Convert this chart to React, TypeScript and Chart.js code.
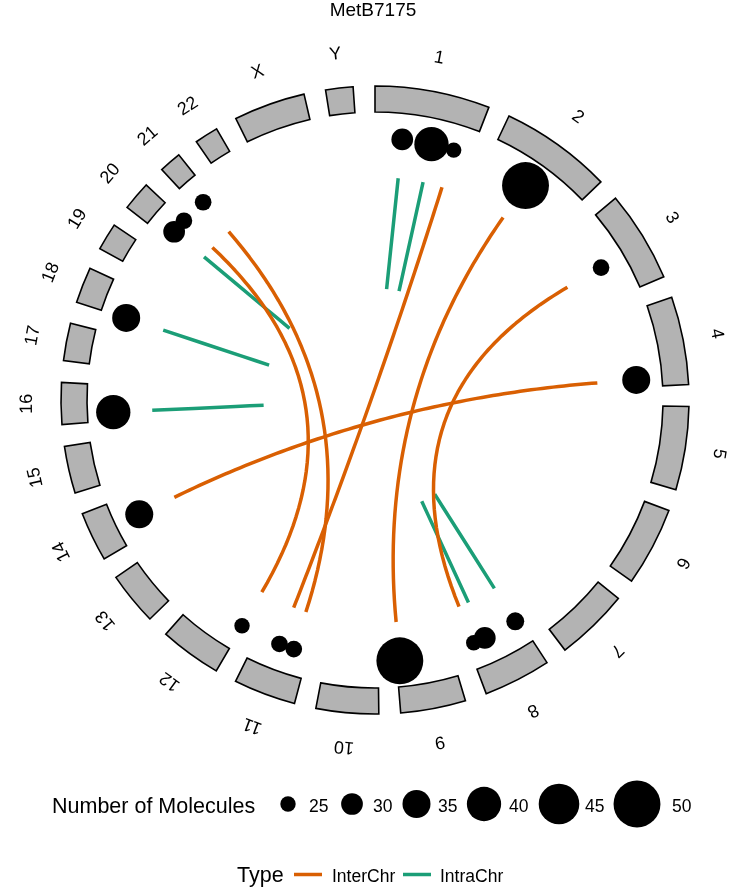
import React, { useEffect, useRef } from 'react';
import { Chart, registerables } from 'chart.js';

Chart.register(...registerables);

// ---------- data ----------
const chartTitle = 'MetB7175';

const chromosomeNames = ['1', '2', '3', '4', '5', '6', '7', '8', '9', '10', '11', '12', '13', '14', '15', '16', '17', '18', '19', '20', '21', '22', 'X', 'Y'];
const chromosomeLengthsMb = [249.25, 243.2, 198.02, 191.15, 180.92, 171.12, 159.14, 146.36, 141.21, 135.53, 135.01, 133.85, 115.17, 107.35, 102.53, 90.35, 81.2, 78.08, 59.13, 63.03, 48.13, 51.3, 155.27, 59.37];

const breakpointChrom = ['1', '1', '1', '2', '3', '4', '8', '8', '8', '9', '11', '11', '12', '14', '16', '18', '20', '20', '21'];
const breakpointPosMb = [70, 146, 205, 115, 113, 172.6, 10, 99, 130, 132.5, 37.5, 76.5, 1.5, 53, 21.5, 1.3, 24.7, 62.5, 21];
const breakpointMolecules = [30, 40, 25, 50, 26, 35, 27, 30, 25, 50, 26, 26, 25, 35, 40, 35, 30, 26, 26];

const linkType = ['InterChr', 'InterChr', 'InterChr', 'InterChr', 'InterChr', 'InterChr', 'IntraChr', 'IntraChr', 'IntraChr', 'IntraChr', 'IntraChr', 'IntraChr', 'IntraChr'];
const linkChromA = ['1', '21', '20', '2', '3', '4', '1', '1', '8', '8', '16', '18', '20'];
const linkPosA = [205, 21, 62.5, 115, 113, 172.6, 70, 146, 10, 99, 21.5, 1.3, 24.7];
const linkChromB = ['11', '11', '12', '9', '8', '14', '1', '1', '8', '8', '16', '18', '20'];
const linkPosB = [76.5, 37.5, 1.5, 132.5, 130, 53, 70, 146, 10, 99, 21.5, 1.3, 24.7];

const sizeLegendTitle = 'Number of Molecules';
const sizeLegendValues = [25, 30, 35, 40, 45, 50];
const typeLegendTitle = 'Type';
const typeLegendValues = ['InterChr', 'IntraChr'];

// ---------- styling / geometry ----------
const typeColors: Record<string, string> = { InterChr: '#D95F02', IntraChr: '#1B9E77' };
const GAP_DEG = 4;
const R_OUT = 314;
const R_IN = 288;
const R_POINT = 262;
const R_LINK = 223;
const R_LABEL = 348;
const FONT = '"Liberation Sans", Arial, Helvetica, sans-serif';

const sizeRadius = (m: number) => 7.7 + (m - 25) * 0.63;

const totalMb = chromosomeLengthsMb.reduce((a, b) => a + b, 0);
const degPerMb = (360 - GAP_DEG * chromosomeNames.length) / totalMb;
const chromStartDeg: number[] = [];
{
  let acc = 0;
  chromosomeLengthsMb.forEach((len, i) => {
    chromStartDeg.push(acc * degPerMb + i * GAP_DEG);
    acc += len;
  });
}
const angleOf = (chr: string, posMb: number) => {
  const i = chromosomeNames.indexOf(chr);
  return chromStartDeg[i] + posMb * degPerMb;
};
const toXY = (deg: number, r: number) => {
  const a = (deg * Math.PI) / 180;
  return { x: r * Math.sin(a), y: r * Math.cos(a) };
};

const circosPlugin = {
  id: 'circosDecor',
  beforeDatasetsDraw(chart: any) {
    const ctx = chart.ctx as CanvasRenderingContext2D;
    const xs = chart.scales.x;
    const ys = chart.scales.y;
    const cx = xs.getPixelForValue(0);
    const cy = ys.getPixelForValue(0);
    const unit = xs.getPixelForValue(1) - cx;
    ctx.save();
    chromosomeNames.forEach((name, i) => {
      const d0 = chromStartDeg[i];
      const d1 = d0 + chromosomeLengthsMb[i] * degPerMb;
      const a0 = ((d0 - 90) * Math.PI) / 180;
      const a1 = ((d1 - 90) * Math.PI) / 180;
      ctx.beginPath();
      ctx.arc(cx, cy, R_OUT * unit, a0, a1, false);
      ctx.arc(cx, cy, R_IN * unit, a1, a0, true);
      ctx.closePath();
      ctx.fillStyle = '#B3B3B3';
      ctx.fill();
      ctx.lineWidth = 1.6;
      ctx.strokeStyle = '#000000';
      ctx.lineJoin = 'miter';
      ctx.stroke();

      const mid = (d0 + d1) / 2;
      const p = toXY(mid, R_LABEL);
      const px = xs.getPixelForValue(p.x);
      const py = ys.getPixelForValue(p.y);
      ctx.save();
      ctx.translate(px, py);
      ctx.rotate((mid * Math.PI) / 180);
      ctx.font = `18px ${FONT}`;
      ctx.fillStyle = '#000000';
      ctx.textAlign = 'center';
      ctx.textBaseline = 'middle';
      ctx.fillText(name, 0, 0);
      ctx.restore();
    });
    ctx.restore();
  },
  afterDraw(chart: any) {
    const ctx = chart.ctx as CanvasRenderingContext2D;
    ctx.save();
    ctx.fillStyle = '#000000';
    // title
    ctx.font = `19px ${FONT}`;
    ctx.textAlign = 'center';
    ctx.textBaseline = 'alphabetic';
    ctx.fillText(chartTitle, 373, 15.5);

    // size legend
    ctx.textAlign = 'left';
    ctx.font = `21.5px ${FONT}`;
    ctx.fillText(sizeLegendTitle, 52, 813);
    const circleCenters = [288, 352, 416.5, 484, 559, 637];
    const labelLefts = [309, 373, 438, 509, 585, 672];
    ctx.font = `17.5px ${FONT}`;
    sizeLegendValues.forEach((v, i) => {
      ctx.beginPath();
      ctx.arc(circleCenters[i], 804, sizeRadius(v), 0, Math.PI * 2);
      ctx.fill();
      ctx.fillText(String(v), labelLefts[i], 812);
    });

    // type legend
    ctx.font = `21.5px ${FONT}`;
    ctx.fillText(typeLegendTitle, 237, 881.5);
    const lineStarts = [294, 403];
    const textLefts = [332, 440];
    ctx.font = `17.5px ${FONT}`;
    typeLegendValues.forEach((t, i) => {
      ctx.beginPath();
      ctx.moveTo(lineStarts[i], 874.5);
      ctx.lineTo(lineStarts[i] + 28, 874.5);
      ctx.lineWidth = 3.5;
      ctx.strokeStyle = typeColors[t];
      ctx.stroke();
      ctx.fillStyle = '#000000';
      ctx.fillText(t, textLefts[i], 881.5);
    });
    ctx.restore();
  },
};

export default function App() {
  const canvasRef = useRef<HTMLCanvasElement | null>(null);

  useEffect(() => {
    document.body.style.margin = '0';
    const canvas = canvasRef.current;
    if (!canvas) return;

    const linkDatasets = linkType.map((t, i) => {
      const p0 = toXY(angleOf(linkChromA[i], linkPosA[i]), R_LINK);
      const p2 = toXY(angleOf(linkChromB[i], linkPosB[i]), R_LINK);
      const pts: { x: number; y: number }[] = [];
      const N = 40;
      // a link whose two ends coincide folds back on itself: its visible trace is the first half
      const degenerate = Math.hypot(p0.x - p2.x, p0.y - p2.y) < 1e-6;
      const sMax = degenerate ? 0.5 : 1;
      const steps = degenerate ? 2 : N;
      for (let k = 0; k <= steps; k++) {
        const s = (k / steps) * sMax;
        const w0 = (1 - s) * (1 - s);
        const w2 = s * s;
        // quadratic Bezier with control point at circle centre (0,0)
        pts.push({ x: w0 * p0.x + w2 * p2.x, y: w0 * p0.y + w2 * p2.y });
      }
      return {
        type: 'line' as const,
        label: t,
        data: pts,
        borderColor: typeColors[t],
        backgroundColor: typeColors[t],
        borderWidth: 3.5,
        borderCapStyle: 'butt' as const,
        borderJoinStyle: 'round' as const,
        pointRadius: 0,
        showLine: true,
        fill: false,
        tension: 0.001,
        order: 2,
      };
    });

    const pointDataset = {
      type: 'bubble' as const,
      label: sizeLegendTitle,
      data: breakpointChrom.map((c, i) => {
        const p = toXY(angleOf(c, breakpointPosMb[i]), R_POINT);
        return { x: p.x, y: p.y, r: sizeRadius(breakpointMolecules[i]) };
      }),
      backgroundColor: '#000000',
      borderColor: '#000000',
      borderWidth: 0,
      order: 1,
    };

    const chart = new Chart(canvas, {
      type: 'scatter',
      data: { datasets: [pointDataset as any, ...(linkDatasets as any[])] },
      options: {
        animation: false,
        responsive: false,
        devicePixelRatio: 1,
        events: [],
        layout: { padding: 0, autoPadding: false },
        scales: {
          x: { type: 'linear', min: -375, max: 371, display: false },
          y: { type: 'linear', min: -493, max: 400, display: false },
        },
        plugins: {
          legend: { display: false },
          title: { display: false },
          tooltip: { enabled: false },
        },
      },
      plugins: [circosPlugin],
    });

    return () => {
      chart.destroy();
    };
  }, []);

  return (
    <div style={{ width: 746, height: 893, background: '#ffffff' }}>
      <canvas ref={canvasRef} width={746} height={893} style={{ display: 'block' }} />
    </div>
  );
}
